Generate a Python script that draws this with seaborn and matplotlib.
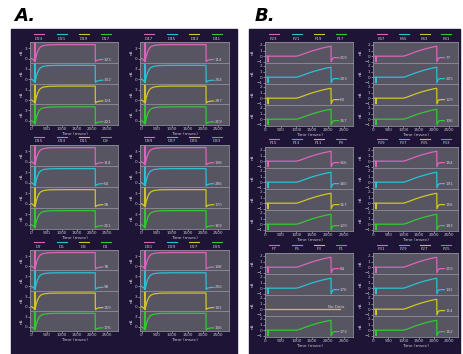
import matplotlib
matplotlib.use("Agg")
import matplotlib.pyplot as plt
from matplotlib.lines import Line2D
from matplotlib.patches import Rectangle
import seaborn as sns

W, H = 463, 354

# trace shapes (time in msec, current in nA)
a_time = [0, 60, 100, 112, 115, 118, 150, 200, 250, 300, 400, 600, 1000, 2100, 2105, 2150, 2250, 2350]
a_current = [0, -0.3, -0.7, -0.8, 4.8, -0.9, 0.6, 2.0, 2.9, 3.4, 3.8, 4.0, 4.05, 4.05, -0.9, -0.5, -0.3, -0.25]
b_time = [0, 95, 100, 105, 110, 1000, 1100, 1200, 1300, 1400, 1500, 1600, 1700, 1800, 1900, 2000, 2100, 2105, 2150, 2200, 2350]
b_current = [0, 0, -1.0, 0, 0, 0, 0.15, 0.35, 0.55, 0.75, 0.93, 1.1, 1.25, 1.4, 1.53, 1.65, 1.75, -1.0, -0.4, -0.25, -0.25]
flat_time = [0, 2400]
flat_current = [0, 0]

colors = ["#db64bc", "#2bc0d4", "#cdc626", "#33c833"]

# cells are listed row by row: left, right
a_names = [["D23", "D21", "D19", "D17"], ["D47", "D45", "D43", "D41"],
           ["D15", "D13", "D11", "D9"], ["D39", "D37", "D35", "D33"],
           ["D7", "D5", "D3", "D1"], ["D31", "D29", "D27", "D25"]]
a_counts = [["323", "332", "124", "221"], ["114", "254", "287", "219"],
            ["114", "64", "98", "211"], ["198", "286", "170", "169"],
            ["78", "98", "159", "176"], ["148", "256", "192", "156"]]
b_names = [["F23", "F21", "F19", "F17"], ["F47", "F45", "F43", "F41"],
           ["F15", "F13", "F11", "F9"], ["F39", "F37", "F35", "F33"],
           ["F7", "F5", "F3", "F1"], ["F31", "F29", "F27", "F25"]]
b_counts = [["219", "203", "60", "167"], ["77", "205", "129", "106"],
            ["166", "180", "167", "129"], ["154", "191", "156", "183"],
            ["84", "176", "No Data", "173"], ["219", "141", "114", "152"]]

bg = "#1e1436"
face = "#585562"
edge = "#908e99"
txt = "#c9c8d0"


def fx(x):
    return x / W


def fy(y):
    return 1 - y / H


fig = plt.figure(figsize=(W / 100, H / 100), dpi=100)
fig.patch.set_facecolor("white")
fig.add_artist(Rectangle((fx(11), 0), (237 - 11) / W, (H - 29) / H,
                         transform=fig.transFigure, color=bg, zorder=0))
fig.add_artist(Rectangle((fx(249), 0), (460 - 249) / W, (H - 29) / H,
                         transform=fig.transFigure, color=bg, zorder=0))
fig.text(fx(14), fy(21), "A.", fontsize=13, fontweight="bold", style="italic")
fig.text(fx(255), fy(21), "B.", fontsize=13, fontweight="bold", style="italic")

panels = [
    dict(names=a_names, counts=a_counts, time=a_time, cur=a_current,
         cols=[(30, 118), (140, 229)], rows=[(42, 125), (145, 229), (250, 331)],
         xlim=(-50, 2850), ylim=(-1.2, 4.8), yticks=[0, 3], text_y=-0.3),
    dict(names=b_names, counts=b_counts, time=b_time, cur=b_current,
         cols=[(265, 353), (373, 458)], rows=[(42, 126), (147, 231), (253, 337)],
         xlim=(0, 2800), ylim=(-1.2, 2.5), yticks=[-1, 0, 1, 2], text_y=-0.4),
]

for p in panels:
    for cell in range(6):
        x0, x1 = p["cols"][cell % 2]
        y0, y1 = p["rows"][cell // 2]
        h = (y1 - y0) / 4

        # legend above the cell: line with the name below it
        for k, frac in enumerate([0.1, 0.36, 0.61, 0.86]):
            cx = x0 + frac * (x1 - x0)
            fig.add_artist(Line2D([fx(cx - 5), fx(cx + 5)], [fy(y0 - 8)] * 2,
                                  color=colors[k], lw=0.8, transform=fig.transFigure))
            fig.text(fx(cx), fy(y0 - 3.5), p["names"][cell][k], fontsize=3.0,
                     color=txt, ha="center", va="center")

        for k in range(4):
            top = y0 + k * h
            ax = fig.add_axes([fx(x0), fy(top + h), (x1 - x0) / W, h / H])
            ax.set_facecolor(face)
            label = p["counts"][cell][k]
            if label == "No Data":
                sns.lineplot(x=flat_time, y=flat_current, ax=ax, color=colors[k], lw=0.9,
                             estimator=None, sort=False, legend=False)
                ax.text(2000, 0.45, label, fontsize=3.0, color=txt, va="center")
            else:
                sns.lineplot(x=p["time"], y=p["cur"], ax=ax, color=colors[k], lw=0.9,
                             estimator=None, sort=False, legend=False)
                ax.text(2380, p["text_y"], label, fontsize=3.0, color=txt, va="center")
            ax.set_xlim(*p["xlim"])
            ax.set_ylim(*p["ylim"])
            ax.set_yticks(p["yticks"])
            ax.set_ylabel("nA", fontsize=3.0, color=txt, labelpad=1)
            for s in ax.spines.values():
                s.set_color(edge)
                s.set_linewidth(0.6)
            ax.tick_params(labelsize=3.0, colors=txt, length=1.2, width=0.4, pad=0.6)
            if k < 3:
                ax.tick_params(bottom=False, labelbottom=False)
                ax.set_xlabel("")
            else:
                ax.set_xticks([0, 500, 1000, 1500, 2000, 2500])
                ax.set_xlabel("Time (msec)", fontsize=3.2, color=txt, labelpad=0.3)

fig.savefig("out.png", dpi=100)
